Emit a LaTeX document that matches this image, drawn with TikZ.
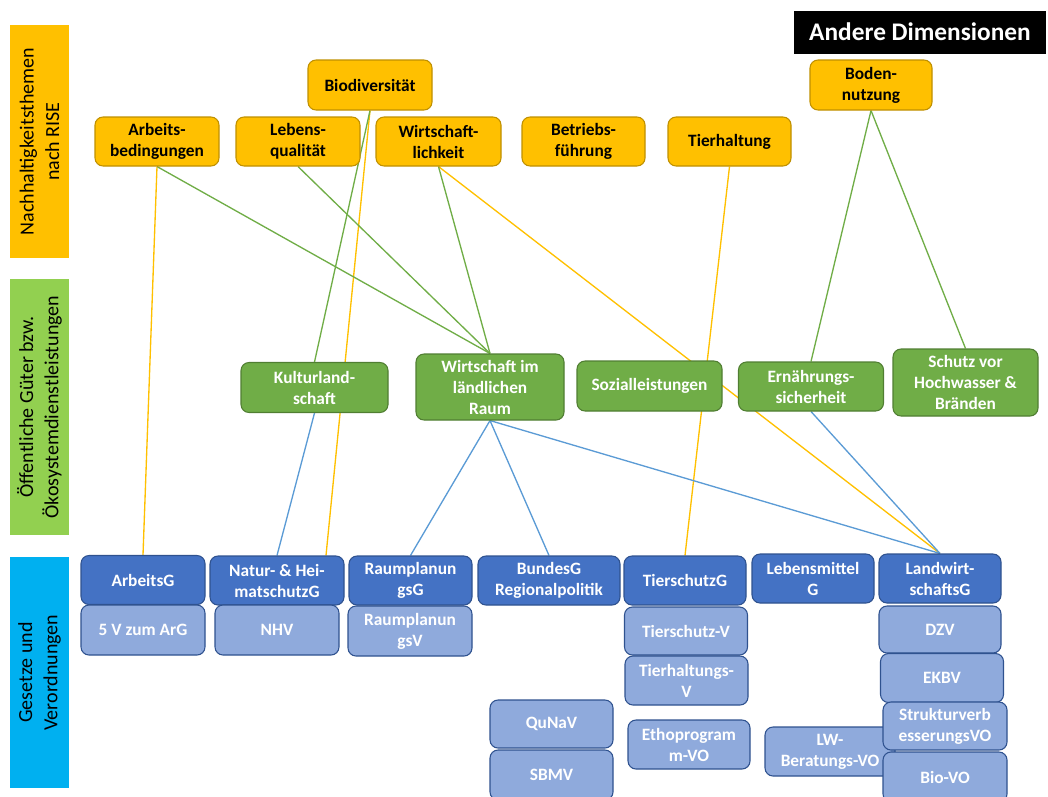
\documentclass[tikz,border=0pt]{standalone}
\usepackage{fontspec}
\setmainfont{Carlito}
\usetikzlibrary{calc,backgrounds}
\definecolor{cOr}{HTML}{FFC000}
\definecolor{cOrD}{HTML}{BF9000}
\definecolor{cGr}{HTML}{70AD47}
\definecolor{cGrD}{HTML}{507E32}
\definecolor{cGrL}{HTML}{92D050}
\definecolor{cBl}{HTML}{4472C4}
\definecolor{cBlD}{HTML}{2F528F}
\definecolor{cBlL}{HTML}{8FAADC}
\definecolor{cCy}{HTML}{00B0F0}
\definecolor{cLn}{HTML}{5B9BD5}
\tikzset{
  nbox/.style={rounded corners=6pt, line width=0.8pt, align=center, inner sep=0pt,
    font=\fontsize{13}{15.75}\selectfont\bfseries},
  obox/.style={nbox, fill=cOr, draw=cOrD, text=black},
  gbox/.style={nbox, fill=cGr, draw=cGrD, text=white},
  bbox/.style={nbox, fill=cBl, draw=cBlD, text=white},
  lbox/.style={nbox, fill=cBlL, draw=cBlD, text=white},
  sz/.style n args={2}{minimum width=#1*0.75pt, minimum height=#2*0.75pt},
  sidebar/.style={inner sep=0pt, rotate=90, align=center, text=black,
    font=\fontsize{15}{19}\selectfont},
  oline/.style={draw=cOr, line width=1pt},
  gline/.style={draw=cGr, line width=1pt},
  bline/.style={draw=cLn, line width=1pt},
}
\begin{document}
\begin{tikzpicture}[x=0.75pt,y=-0.75pt]
\useasboundingbox (0,0) rectangle (1048,796);
% side bars
\node (bar1) [sidebar, fill=cOr, sz={233}{59}] at (39.5,141.5) {Nachhaltigkeitsthemen\\nach RISE};
\node (bar2) [sidebar, fill=cGrL, sz={256}{59}] at (39.5,407) {Öffentliche Güter bzw.\\Ökosystemdienstleistungen};
\node (bar3) [sidebar, fill=cCy, sz={231}{59}] at (39.5,672.5) {Gesetze und\\Verordnungen};
% title
\node (andere) [fill=black, text=white, inner sep=0pt, sz={252}{43},
  font=\fontsize{19}{22}\selectfont\bfseries] at (920,32) {Andere Dimensionen};
% orange nodes
\node (bio) [obox, sz={124}{50}] at (370,85) {Biodiversität};
\node (arb) [obox, sz={124}{49}] at (157,141.5) {Arbeits-\\bedingungen};
\node (leb) [obox, sz={124}{49}] at (298,141.5) {Lebens-\\qualität};
\node (wir) [obox, sz={125}{49}] at (438.5,141.5) {Wirtschaft-\\lichkeit};
\node (bet) [obox, sz={123}{49}] at (583.5,141.5) {Betriebs-\\führung};
\node (tie) [obox, sz={123}{49}] at (729.5,141.5) {Tierhaltung};
\node (bod) [obox, sz={122}{50}] at (871,85) {Boden-\\nutzung};
% green nodes
\node (kul) [gbox, sz={147}{50}] at (314.5,387.5) {Kulturland-\\schaft};
\node (wlr) [gbox, sz={148}{66}] at (490,387) {Wirtschaft im\\ländlichen\\Raum};
\node (soz) [gbox, sz={145}{50}] at (649.5,386) {Sozialleistungen};
\node (ern) [gbox, sz={145}{49}] at (811,386.5) {Ernährungs-\\sicherheit};
\node (sch) [gbox, sz={145}{67}] at (965.5,382.5) {Schutz vor\\Hochwasser \&\\Bränden};
% dark blue nodes
\node (arG) [bbox, sz={124}{49}] at (143,580) {ArbeitsG};
\node (natG) [bbox, sz={134}{49}] at (277,580.5) {Natur- \& Hei-\\matschutzG};
\node (rpG) [bbox, sz={123}{49}] at (410.5,580.5) {Raumplanun\\gsG};
\node (bunG) [bbox, sz={142}{49}] at (549,580.5) {BundesG\\Regionalpolitik};
\node (tsG) [bbox, sz={122}{49}] at (685,580.5) {TierschutzG};
\node (lmG) [bbox, sz={122}{49}] at (813,578.5) {Lebensmittel\\G};
\node (lwG) [bbox, sz={122}{49}] at (940,578.5) {Landwirt-\\schaftsG};
% light blue nodes
\node (argV) [lbox, sz={124}{50}] at (143,630) {5 V zum ArG};
\node (nhv) [lbox, sz={124}{50}] at (277,630) {NHV};
\node (rpV) [lbox, sz={124}{50}] at (410,631) {Raumplanun\\gsV};
\node (qunav) [lbox, sz={123}{48}] at (551.5,724) {QuNaV};
\node (sbmv) [lbox, sz={123}{50}] at (551.5,775) {SBMV};
\node (tsV) [lbox, sz={123}{48}] at (686,631) {Tierschutz-V};
\node (thV) [lbox, sz={123}{49}] at (686.5,680.5) {Tierhaltungs-\\V};
\node (etho) [lbox, sz={122}{49}] at (689,744.5) {Ethoprogram\\m-VO};
\node (lwb) [lbox, sz={130}{49}] at (830,751.5) {LW-\\Beratungs-VO};
\node (dzv) [lbox, sz={122}{47}] at (940,629.5) {DZV};
\node (ekbv) [lbox, sz={123}{49}] at (942,678) {EKBV};
\node (struk) [lbox, sz={124}{48}] at (945,726) {Strukturverb\\esserungsVO};
\node (biovo) [lbox, sz={124}{50}] at (945,777) {Bio-VO};
% connectors (behind nodes)
\begin{scope}[on background layer]
\draw[oline] (arb.south) -- (arG.north);
\draw[oline] (bio.south) -- ($(natG.north)+(49,0)$);
\draw[oline] (wir.south) -- (lwG.north);
\draw[oline] (tie.south) -- (tsG.north);
\draw[gline] (arb.south) -- (wlr.north);
\draw[gline] (leb.south) -- (wlr.north);
\draw[gline] (wir.south) -- (wlr.north);
\draw[gline] (bio.south) -- (kul.north);
\draw[gline] (bod.south) -- (ern.north);
\draw[gline] (bod.south) -- (sch.north);
\draw[bline] (kul.south) -- (natG.north);
\draw[bline] (wlr.south) -- (rpG.north);
\draw[bline] (wlr.south) -- (bunG.north);
\draw[bline] (wlr.south) -- (lwG.north);
\draw[bline] (ern.south) -- (lwG.north);
\end{scope}
\end{tikzpicture}
\end{document}
